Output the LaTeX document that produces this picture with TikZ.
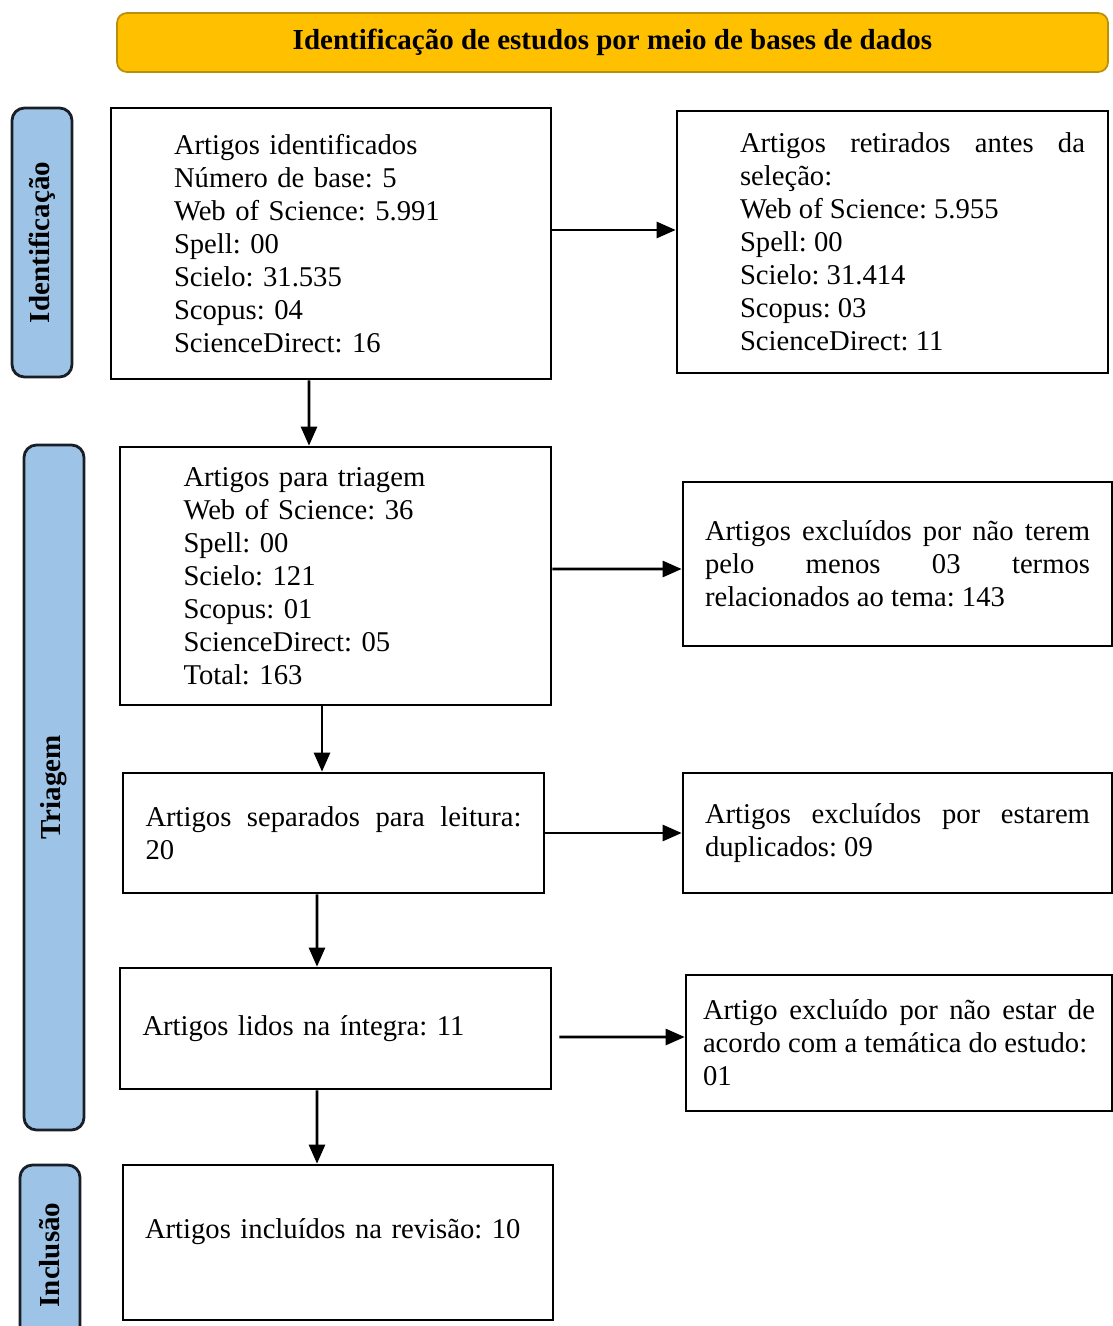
\documentclass[tikz,border=0pt]{standalone}
\usepackage{fontspec}
\setmainfont{Liberation Serif}
\usepackage{xcolor}
\usepackage{tikz}
\usetikzlibrary{positioning, arrows.meta}

\definecolor{titlegold}{HTML}{FFC000}
\definecolor{titleedge}{HTML}{B8900A}
\definecolor{phaseblue}{HTML}{9DC3E6}
\definecolor{phaseedge}{HTML}{1A1E26}

\begin{document}
\frenchspacing
\begin{tikzpicture}[
    box/.style={draw, line width=1.5pt, fill=white, font=\fontsize{16.3}{18.8}\selectfont},
    phase/.style={draw=phaseedge, line width=1.6pt, fill=phaseblue, rounded corners=0.25cm, rotate=90, minimum height=1.2cm, font=\fontsize{16.5}{19}\selectfont\bfseries},
    arrow/.style={-{Triangle[length=0.38cm, width=0.32cm]}, line width=1.5pt}
]
\useasboundingbox (0,0) rectangle (22.26,-26.52);

% Title
\node[draw=titleedge, line width=1pt, fill=titlegold, rounded corners=0.2cm, minimum width=19.82cm, minimum height=1.18cm, font=\fontsize{16.5}{19}\selectfont\bfseries] (title) at (12.25,-0.85) {Identificação de estudos por meio de bases de dados};

% Phases
\node[phase, minimum width=5.38cm] (ident) at (0.84,-4.85) {Identificação};
\node[phase, minimum width=13.7cm] (triag) at (1.08,-15.75) {Triagem};
\node[phase, minimum width=3.6cm] (inclu) at (1.0,-25.1) {Inclusão};

% Left column
\node[box, minimum width=8.8cm, minimum height=5.42cm, text width=6.28cm, align=left] (identified) at (6.62,-4.87) {Artigos identificados\\ Número de base: 5\\ Web of Science: 5.991\\ Spell: 00\\ Scielo: 31.535\\ Scopus: 04\\ ScienceDirect: 16};
\node[box, minimum width=8.62cm, minimum height=5.16cm, text width=6.08cm, align=left] (screened) at (6.71,-11.52) {Artigos para triagem\\ Web of Science: 36\\ Spell: 00\\ Scielo: 121\\ Scopus: 01\\ ScienceDirect: 05\\ Total: 163};
\node[box, minimum width=8.42cm, minimum height=2.4cm, text width=7.52cm, align=justify] (toread) at (6.67,-16.66) {Artigos separados para leitura:\linebreak 20};
\node[box, minimum width=8.62cm, minimum height=2.42cm, text width=7.72cm, align=left] (fullread) at (6.71,-20.57) {Artigos lidos na íntegra: 11};
\node[box, minimum width=8.6cm, minimum height=3.1cm, text width=7.72cm, align=left] (included) at (6.76,-24.85) {Artigos incluídos na revisão: 10\\[-0.1cm]\mbox{}};

% Right column
\node[box, minimum width=8.62cm, minimum height=5.24cm] (removed) at (17.85,-4.84) {\hspace*{0.8cm}\begin{minipage}{6.9cm}Artigos retirados antes da\linebreak seleção:\\ Web of Science: 5.955\\ Spell: 00\\ Scielo: 31.414\\ Scopus: 03\\ ScienceDirect: 11\end{minipage}};
\node[box, minimum width=8.58cm, minimum height=3.28cm, text width=7.7cm, align=justify] (noterms) at (17.95,-11.28) {Artigos excluídos por não terem\linebreak pelo menos 03 termos\linebreak relacionados ao tema: 143};
\node[box, minimum width=8.58cm, minimum height=2.4cm, text width=7.7cm, align=justify] (duplic) at (17.95,-16.66) {Artigos excluídos por estarem\linebreak duplicados: 09};
\node[box, minimum width=8.52cm, minimum height=2.72cm, text width=7.84cm, align=justify] (offtopic) at (17.98,-20.86) {Artigo excluído por não estar de\linebreak acordo com a temática do estudo:\\ 01};

% Arrows
\draw[arrow] ([yshift=0.27cm]identified.east) -- ([yshift=0.24cm]removed.west);
\draw[arrow] ([yshift=0.14cm]screened.east) -- ([yshift=-0.10cm]noterms.west);
\draw[arrow] (toread.east) -- (duplic.west);
\draw[arrow] ([xshift=0.14cm, yshift=-0.17cm]fullread.east) -- ([yshift=0.12cm]offtopic.west);

\draw[arrow] ([xshift=-0.44cm]identified.south) -- ([xshift=-0.53cm]screened.north);
\draw[arrow] ([xshift=-0.27cm]screened.south) -- ([xshift=-0.23cm]toread.north);
\draw[arrow] ([xshift=-0.33cm]toread.south) -- ([xshift=-0.37cm]fullread.north);
\draw[arrow] ([xshift=-0.37cm]fullread.south) -- ([xshift=-0.42cm]included.north);

\end{tikzpicture}
\end{document}
